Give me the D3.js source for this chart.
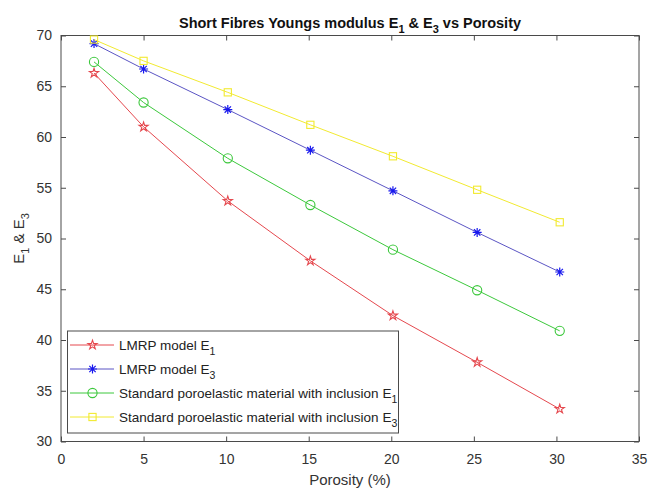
<!DOCTYPE html>
<html><head><meta charset="utf-8">
<script src="https://cdn.jsdelivr.net/npm/d3@7"></script>
<style>body{margin:0;background:#fff}svg{font-family:"Liberation Sans",Arial,sans-serif}</style>
</head><body>
<svg id="c" width="648" height="492"></svg>
<script>
const porosity = [2, 5, 10.1, 15.1, 20.1, 25.2, 30.2];
const lmrpE1 = [66.3, 61.0, 53.7, 47.8, 42.4, 37.8, 33.2];
const lmrpE3 = [69.2, 66.7, 62.7, 58.7, 54.7, 50.6, 46.7];
const stdE1 = [67.4, 63.4, 57.9, 53.3, 48.9, 44.9, 40.9];
const stdE3 = [69.6, 67.5, 64.4, 61.2, 58.1, 54.8, 51.6];
const xTicks = [0, 5, 10, 15, 20, 25, 30, 35];
const yTicks = [30, 35, 40, 45, 50, 55, 60, 65, 70];
const seriesNames = [["LMRP model E", "1"], ["LMRP model E", "3"],
  ["Standard poroelastic material with inclusion E", "1"], ["Standard poroelastic material with inclusion E", "3"]];

const series = [
  {vals: lmrpE1, line: "#e5484e", mark: "#e5484e", shape: "star"},
  {vals: lmrpE3, line: "#5b55c4", mark: "#1818ee", shape: "asterisk"},
  {vals: stdE1, line: "#3cc83c", mark: "#3cc83c", shape: "circle"},
  {vals: stdE3, line: "#f2ea30", mark: "#f2ea30", shape: "square"}
];

const svg = d3.select("#c");
const L = 61, R = 639, T = 35.5, B = 441.5;
const x = d3.scaleLinear().domain([0, 35]).range([L, R]);
const y = d3.scaleLinear().domain([30, 70]).range([B, T]);
const axisCol = "#4a4a4a";

svg.append("rect").attr("x", L).attr("y", T).attr("width", R - L).attr("height", B - T)
  .attr("fill", "none").attr("stroke", axisCol).attr("stroke-width", 1);

const fmt = d3.format("d");
const gx = svg.append("g").attr("transform", `translate(0,${B})`)
  .call(d3.axisBottom(x).tickValues(xTicks).tickFormat(fmt).tickSizeInner(-5).tickSizeOuter(0).tickPadding(13));
const gxt = svg.append("g").attr("transform", `translate(0,${T})`)
  .call(d3.axisTop(x).tickValues(xTicks).tickFormat("").tickSizeInner(-5).tickSizeOuter(0));
const gy = svg.append("g").attr("transform", `translate(${L},0)`)
  .call(d3.axisLeft(y).tickValues(yTicks).tickFormat(fmt).tickSizeInner(-5).tickSizeOuter(0).tickPadding(9));
const gyr = svg.append("g").attr("transform", `translate(${R},0)`)
  .call(d3.axisRight(y).tickValues(yTicks).tickFormat("").tickSizeInner(-5).tickSizeOuter(0));
[gx, gxt, gy, gyr].forEach(g => {
  g.select(".domain").remove();
  g.selectAll("line").attr("stroke", axisCol);
  g.selectAll("text").attr("fill", "#333").style("font-size", "14px").style("font-family", '"Liberation Sans",Arial,sans-serif');
});

function drawMarker(g, shape, cx, cy, col) {
  if (shape === "star") {
    g.append("path").attr("d", d3.symbol(d3.symbolStar, 26)()).attr("transform", `translate(${cx},${cy})`)
      .attr("fill", "none").attr("stroke", col).attr("stroke-width", 1.1);
  } else if (shape === "asterisk") {
    const r = 4.5;
    let d = "";
    [0, 45, 90, 135].forEach(a => {
      const rad = a * Math.PI / 180, dx = r * Math.cos(rad), dy = r * Math.sin(rad);
      d += `M${cx - dx},${cy - dy}L${cx + dx},${cy + dy}`;
    });
    g.append("path").attr("d", d).attr("stroke", col).attr("stroke-width", 1.2).attr("fill", "none");
  } else if (shape === "circle") {
    g.append("circle").attr("cx", cx).attr("cy", cy).attr("r", 4.6).attr("fill", "none")
      .attr("stroke", col).attr("stroke-width", 1.1);
  } else if (shape === "square") {
    g.append("rect").attr("x", cx - 3.6).attr("y", cy - 3.6).attr("width", 7.2).attr("height", 7.2)
      .attr("fill", "none").attr("stroke", col).attr("stroke-width", 1.1);
  }
}

const line = d3.line().x(d => x(d[0])).y(d => y(d[1]));
series.forEach(s => {
  const pts = porosity.map((p, i) => [p, s.vals[i]]);
  svg.append("path").attr("d", line(pts)).attr("fill", "none").attr("stroke", s.line).attr("stroke-width", 1);
  const g = svg.append("g");
  pts.forEach(p => drawMarker(g, s.shape, x(p[0]), y(p[1]), s.mark));
});

const title = svg.append("text").attr("x", (L + R) / 2).attr("y", 28).attr("text-anchor", "middle")
  .style("font-size", "14.5px").style("font-weight", "bold").attr("fill", "#111");
title.append("tspan").text("Short Fibres Youngs modulus E");
title.append("tspan").text("1").attr("dy", 5).style("font-size", "11px");
title.append("tspan").text(" & E").attr("dy", -5);
title.append("tspan").text("3").attr("dy", 5).style("font-size", "11px");
title.append("tspan").text(" vs Porosity").attr("dy", -5);

svg.append("text").attr("x", (L + R) / 2).attr("y", 485).attr("text-anchor", "middle")
  .style("font-size", "15px").attr("fill", "#333").text("Porosity (%)");

const yl = svg.append("text").attr("transform", `translate(24,${(T + B) / 2}) rotate(-90)`)
  .attr("text-anchor", "middle").style("font-size", "15px").attr("fill", "#333");
yl.append("tspan").text("E");
yl.append("tspan").text("1").attr("dy", 5).style("font-size", "11px");
yl.append("tspan").text(" & E").attr("dy", -5);
yl.append("tspan").text("3").attr("dy", 5).style("font-size", "11px");

const lg = svg.append("g");
lg.append("rect").attr("x", 67.5).attr("y", 331).attr("width", 331).attr("height", 102)
  .attr("fill", "#fff").attr("stroke", axisCol).attr("stroke-width", 1);
series.forEach((s, i) => {
  const cy = 345 + i * 24;
  lg.append("line").attr("x1", 70).attr("x2", 114).attr("y1", cy).attr("y2", cy)
    .attr("stroke", s.line).attr("stroke-width", 1);
  drawMarker(lg, s.shape, 92.5, cy, s.mark);
  const t = lg.append("text").attr("x", 119).attr("y", cy + 4.5).style("font-size", "13.5px").attr("fill", "#222");
  t.append("tspan").text(seriesNames[i][0]);
  t.append("tspan").text(seriesNames[i][1]).attr("dy", 5).style("font-size", "10.5px");
});
</script>
</body></html>
